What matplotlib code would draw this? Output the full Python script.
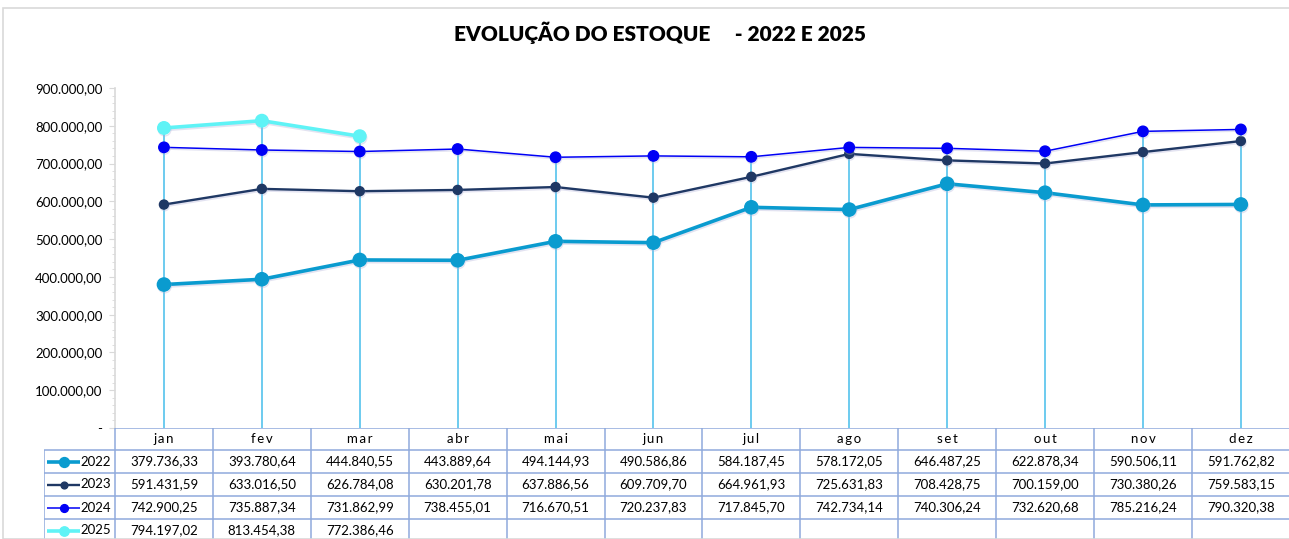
import numpy as np
import matplotlib.pyplot as plt
import matplotlib.patheffects as pe
from matplotlib.patches import Rectangle

plt.rcParams['font.family'] = ['Lato', 'DejaVu Sans']

meses = ['jan', 'fev', 'mar', 'abr', 'mai', 'jun', 'jul', 'ago', 'set', 'out', 'nov', 'dez']
anos = ['2022', '2023', '2024', '2025']

v2022 = [379736.33, 393780.64, 444840.55, 443889.64, 494144.93, 490586.86,
         584187.45, 578172.05, 646487.25, 622878.34, 590506.11, 591762.82]
v2023 = [591431.59, 633016.50, 626784.08, 630201.78, 637886.56, 609709.70,
         664961.93, 725631.83, 708428.75, 700159.00, 730380.26, 759583.15]
v2024 = [742900.25, 735887.34, 731862.99, 738455.01, 716670.51, 720237.83,
         717845.70, 742734.14, 740306.24, 732620.68, 785216.24, 790320.38]
v2025 = [794197.02, 813454.38, 772386.46]

series = [v2022, v2023, v2024, v2025]
cores = ['#0A9BCF', '#1F3864', '#0000F5', '#5FF3F6']
lw = [2.6, 1.7, 1.1, 2.6]
ms = [9.5, 6.5, 7.5, 9.0]

def fmt(v):
    s = f'{v:,.2f}'
    return s.replace(',', 'X').replace('.', ',').replace('X', '.')

W, H = 1289, 539
fig = plt.figure(figsize=(W / 100, H / 100), dpi=100)

# moldura do grafico
fig.patches.append(Rectangle((3 / W, 0), 1.2, 1 - 8 / H, transform=fig.transFigure,
                             fill=False, edgecolor='#D9D9D9', lw=1.2))

cw = 97.9
x0 = 115
ax = fig.add_axes([x0 / W, 1 - 428 / H, 12 * cw / W, 340 / H])
ax.set_xlim(-0.5, 11.5)
ax.set_ylim(0, 900000)
x = np.arange(len(meses))

# linhas de queda
topo = [max(s[i] for s in series if i < len(s)) for i in range(len(meses))]
ax.vlines(x, 0, topo, color='#45BDEB', lw=1.1, zorder=1)

sombra = [pe.SimpleLineShadow(offset=(0.5, -1.2), shadow_color='#B0B0D8', alpha=0.35), pe.Normal()]
for s, c, l, m in zip(series, cores, lw, ms):
    ax.plot(x[:len(s)], s, color=c, lw=l, marker='o', ms=m, zorder=3, path_effects=sombra)

ax.set_xticks([])
ax.set_yticks(np.arange(0, 900001, 100000))
ax.set_yticks(np.arange(0, 900001, 20000), minor=True)
ax.set_yticklabels(['-'] + [fmt(v) for v in np.arange(100000, 900001, 100000)], fontsize=9.5)
ax.tick_params(axis='y', which='major', length=4, color='#D9D9D9', pad=5)
ax.tick_params(axis='y', which='minor', length=2.5, color='#D9D9D9')
for k in ['top', 'right', 'bottom']:
    ax.spines[k].set_visible(False)
ax.spines['left'].set_color('#D9D9D9')
ax.spines['left'].set_linewidth(1.2)
ax.patch.set_alpha(0)

fig.text(660 / W, 1 - 33 / H, 'EVOLUÇÃO DO ESTOQUE     - 2022 E 2025',
         ha='center', va='center', fontsize=15, fontweight='heavy')

# tabela de dados
tb = fig.add_axes([44 / W, 0, (x0 + 12 * cw - 44) / W, (H - 428) / H])
xl = -0.5 - (x0 - 44) / cw
tb.set_xlim(xl, 11.5)
tb.set_ylim(H, 428)
tb.axis('off')
borda = '#8FAADC'
linhas = [428, 450, 473, 496, 519, 542]
tb.hlines(428, -0.5, 11.5, color=borda, lw=1.1)
tb.hlines(linhas[1:], xl, 11.5, color=borda, lw=1.1)
tb.vlines(np.arange(-0.5, 11.6, 1), 428, 542, color=borda, lw=1.1)
tb.vlines(xl, 450, 542, color=borda, lw=1.1)

for i, m in enumerate(meses):
    tb.text(i, 439, '\u2009'.join(m), ha='center', va='center', fontsize=9.5)
for r, (s, c, l, m, a) in enumerate(zip(series, cores, lw, ms, anos)):
    yc = (linhas[r + 1] + linhas[r + 2]) / 2
    for i, v in enumerate(s):
        tb.text(i, yc, fmt(v), ha='center', va='center', fontsize=9.5)
    px = lambda p: (p - x0) / cw - 0.5
    tb.plot([px(47), px(80)], [yc, yc], color=c, lw=l, solid_capstyle='butt')
    tb.plot(px(63.5), yc, 'o', color=c, ms=m * 0.75)
    tb.text(px(111), yc, a, ha='right', va='center', fontsize=9.5)

fig.savefig('out.png', dpi=100)
